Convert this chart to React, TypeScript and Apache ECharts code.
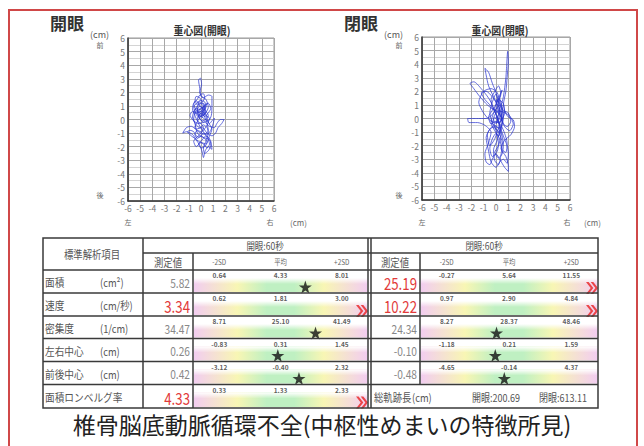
import React, { useEffect, useRef } from "react";
import * as echarts from "echarts";

// ---- trajectory data (cm) ----
const openEyePath: number[][] = [
  [0.0, 0.5], [0.3, 0.8], [0.1, 1.2], [-0.3, 1.0], [-0.5, 0.6], [-0.2, 0.2], [0.3, 0.4], [0.6, 0.9],
  [0.4, 1.5], [0.0, 1.7], [-0.1, 2.3], [-0.2, 2.9], [-0.05, 3.05], [0.05, 2.6], [-0.1, 2.0], [0.2, 1.6],
  [0.6, 1.8], [0.9, 1.7], [0.9, 1.0], [0.85, 0.3], [0.6, -0.1], [0.2, 0.1], [-0.3, 0.4], [-0.7, 0.6],
  [-0.9, 0.3], [-0.6, -0.1], [-0.2, -0.3], [0.3, -0.2], [0.7, -0.5], [1.1, -0.6], [1.3, -0.3], [1.6, 0.0],
  [1.9, 0.0], [1.7, -0.3], [1.4, -0.6], [1.2, -1.0], [0.9, -1.2], [0.5, -1.0], [0.1, -0.6], [-0.4, -0.7],
  [-0.8, -0.5], [-1.2, -0.6], [-1.5, -1.0], [-1.2, -0.9], [-0.7, -1.1], [-0.4, -1.5], [-0.1, -1.9], [0.1, -2.4],
  [0.2, -2.8], [0.35, -2.3], [0.6, -2.0], [0.9, -2.2], [0.8, -1.6], [0.5, -1.4], [0.1, -1.3], [-0.3, -1.0],
  [-0.5, -0.3], [-0.7, 0.2], [-0.4, 0.8], [0.0, 0.7], [0.4, 0.3], [0.7, 0.1], [0.5, -0.4], [0.2, -0.8],
  [-0.2, -1.2], [-0.6, -1.6], [-0.4, -2.0], [0.0, -1.7], [0.4, -1.8], [0.7, -1.2], [0.9, -0.7], [0.6, -0.2],
  [0.3, 0.6], [-0.1, 1.0], [-0.4, 1.4], [-0.6, 1.1], [-0.3, 0.6], [0.1, 0.4], [0.2, 0.9], [0.5, 1.2],
  [0.2, 0.5], [-0.2, 0.0], [-0.5, -0.6], [-0.2, -0.9], [0.3, -1.1], [0.6, -0.8], [0.4, 0.0], [0.0, 0.6],
  [-0.4, 0.5], [-0.6, 0.9], [-0.2, 1.3], [0.3, 1.1], [0.1, 0.7],
  [0.3, 0.5], [0.1, 0.2], [-0.2, 0.4], [-0.3, 0.8], [0.0, 1.0], [0.2, 0.7], [0.4, 0.9], [0.3, 1.3],
  [-0.1, 1.4], [-0.3, 1.1], [-0.5, 1.3], [-0.4, 1.7], [-0.1, 1.6], [0.1, 1.3], [0.3, 1.6], [0.2, 1.9],
  [-0.1, 1.8], [-0.3, 1.5], [-0.6, 1.2], [-0.7, 0.8], [-0.5, 0.3], [-0.3, -0.1], [0.0, -0.3], [0.2, -0.6],
  [0.0, -0.9], [-0.3, -0.8], [-0.5, -1.1], [-0.3, -1.4], [0.0, -1.2], [0.3, -1.4], [0.5, -1.7], [0.3, -2.0],
  [0.0, -2.1], [-0.2, -1.8], [0.1, -1.5], [0.4, -1.2], [0.7, -1.4], [0.8, -1.9], [0.6, -2.3], [0.3, -2.5],
  [0.2, -2.1], [0.4, -1.6], [0.6, -1.0], [0.5, -0.6], [0.2, -0.4], [-0.1, -0.6], [-0.4, -0.4], [-0.6, 0.0],
  [-0.5, 0.5], [-0.2, 0.7], [0.1, 0.9], [0.4, 0.6], [0.6, 0.3], [0.4, 0.0], [0.1, -0.1], [-0.2, 0.2],
  [0.0, 0.5], [0.3, 0.2], [0.6, 0.5], [0.8, 0.8], [0.6, 1.2], [0.3, 1.0], [0.0, 0.8], [-0.3, 0.5],
  [-0.1, 0.1], [0.2, -0.2], [0.5, -0.1], [0.7, -0.3], [0.9, -0.1], [1.1, 0.1], [1.0, -0.3], [0.8, -0.8],
  [0.5, -1.1], [0.2, -1.0], [-0.1, -1.3], [-0.4, -1.2], [-0.6, -0.9], [-0.9, -0.8], [-1.1, -0.9], [-0.8, -1.2],
  [-0.5, -1.4], [-0.2, -1.6], [0.2, -1.8], [0.5, -2.1], [0.7, -1.8], [0.5, -1.3], [0.2, -0.9], [-0.1, -0.5],
  [-0.3, 0.0], [-0.1, 0.4], [0.2, 0.3], [0.4, 0.6], [0.2, 1.0], [-0.1, 1.2], [-0.3, 0.9], [-0.2, 0.5], [0.0, 0.6]
];
const closedEyePath: number[][] = [
  [0.0, 0.0], [0.3, 0.5], [0.2, 1.3], [0.0, 1.8], [-0.3, 1.2], [-0.5, 0.4], [-0.2, -0.5], [0.3, -1.0],
  [0.5, -0.3], [0.4, 0.8], [0.6, 1.6], [0.8, 3.0], [0.95, 4.95], [1.0, 4.2], [0.9, 3.0], [0.8, 2.0],
  [0.6, 1.0], [0.9, 0.2], [1.4, -0.1], [1.5, -0.6], [1.2, -1.2], [0.7, -1.6], [0.4, -2.2], [0.8, -2.8],
  [1.0, -3.5], [1.0, -3.9], [0.7, -3.6], [0.3, -3.0], [0.0, -2.6], [-0.3, -3.0], [-0.5, -3.4], [-0.8, -3.2],
  [-0.9, -2.6], [-0.6, -1.8], [-0.4, -1.0], [-0.9, -0.5], [-1.5, -0.3], [-2.2, -0.3], [-2.3, 0.0], [-1.6, 0.0],
  [-0.8, 0.0], [-0.3, 0.3], [0.1, 0.9], [-0.2, 1.6], [-0.6, 2.4], [-0.8, 3.2], [-0.9, 3.7], [-0.6, 3.4],
  [-0.3, 2.6], [0.0, 1.9], [0.2, 1.0], [0.4, 0.1], [0.7, -0.6], [1.1, -0.9], [1.4, -0.4], [1.1, 0.2],
  [0.5, 0.5], [-0.1, 0.6], [-0.7, 1.0], [-1.3, 1.6], [-1.8, 2.2], [-2.1, 2.6], [-1.8, 2.7], [-1.2, 2.2],
  [-0.6, 1.5], [-0.2, 0.8], [0.1, 0.0], [0.3, -0.8], [0.1, -1.6], [-0.2, -2.3], [-0.1, -3.1], [0.2, -3.4],
  [0.4, -2.7], [0.5, -1.8], [0.2, -1.0], [-0.3, -0.6], [-0.7, -1.2], [-0.5, -2.0], [-0.1, -1.5], [0.3, -0.4],
  [0.5, 0.4], [0.3, 1.2], [0.1, 1.9], [-0.4, 2.2], [-1.0, 2.0], [-1.4, 1.2], [-1.0, 0.4], [-0.4, -0.2],
  [0.2, -0.3], [0.6, 0.2], [0.4, 1.0], [0.0, 1.4], [0.2, 0.3], [0.0, -0.4],
  [0.3, 0.2], [0.1, 0.8], [-0.2, 0.4], [-0.4, -0.3], [-0.1, -0.9], [0.2, -1.3], [0.4, -0.7], [0.6, 0.0],
  [0.5, 0.9], [0.3, 1.5], [0.5, 2.1], [0.3, 1.7], [0.0, 1.0], [-0.3, 0.6], [-0.6, 0.1], [-0.4, -0.4],
  [0.0, -0.2], [0.4, -0.5], [0.7, -1.1], [0.9, -1.8], [0.8, -2.5], [0.5, -2.3], [0.3, -1.5], [0.0, -1.1],
  [-0.3, -1.5], [-0.5, -2.2], [-0.3, -2.8], [0.1, -2.4], [0.2, -1.8], [0.0, -0.9], [-0.2, 0.0], [0.1, 0.5],
  [0.4, 0.2], [0.6, -0.4], [0.9, -0.6], [1.2, -0.2], [1.0, 0.4], [0.6, 0.6], [0.2, 1.2], [0.4, 1.8],
  [0.2, 2.4], [-0.1, 2.0], [-0.4, 1.4], [-0.2, 0.7], [0.2, 0.4], [0.5, -0.2], [0.3, -0.7], [-0.1, -0.6],
  [-0.5, -0.8], [-0.8, -1.4], [-0.6, -2.4], [-0.4, -3.2], [0.0, -3.6], [0.3, -3.2], [0.6, -3.0], [0.9, -3.3],
  [1.0, -2.6], [0.9, -2.0], [0.6, -1.3], [0.3, -0.5], [0.0, 0.3], [-0.4, 0.9], [-0.9, 1.4], [-1.2, 1.9],
  [-0.8, 2.0], [-0.3, 1.6], [0.0, 1.2], [0.3, 0.7], [0.5, 0.0], [0.3, -0.3], [-0.1, 0.1], [-0.3, -0.4],
  [0.1, -0.6], [0.4, -1.2], [0.2, -2.0], [-0.1, -2.5], [0.2, -2.9], [0.5, -2.6], [0.6, -1.9], [0.4, -0.9],
  [0.2, -0.1], [-0.1, 0.7], [0.2, 1.4], [0.6, 1.1], [0.7, 0.4], [0.4, -0.1], [0.1, 0.1]
];

// ---- table data ----
const itemNames = ["面積", "速度", "密集度", "左右中心", "前後中心", "面積ロンベルグ率"];
const itemUnits = ["(cm²)", "(cm/秒)", "(1/cm)", "(cm)", "(cm)", ""];
const openMeasured = [5.82, 3.34, 34.47, 0.26, 0.42, 4.33];
const openMinus2SD = [0.64, 0.62, 8.71, -0.83, -3.12, 0.33];
const openMean = [4.33, 1.81, 25.1, 0.31, -0.4, 1.33];
const openPlus2SD = [8.01, 3.0, 41.49, 1.45, 2.32, 2.33];
const closedMeasured = [25.19, 10.22, 24.34, -0.1, -0.48];
const closedMinus2SD = [-0.27, 0.97, 8.27, -1.18, -4.65];
const closedMean = [5.64, 2.9, 28.37, 0.21, -0.14];
const closedPlus2SD = [11.55, 4.84, 48.46, 1.59, 4.37];
const headerLabels = ["-2SD", "平均", "+2SD"];
const sectionTitles = ["開眼:60秒", "閉眼:60秒"];
const totalPathNames = ["開眼", "閉眼"];
const totalPathValues = [200.69, 613.11];
const caption = "椎骨脳底動脈循環不全(中枢性めまいの特徴所見)";

const FONT = '"Noto Sans CJK JP", "Noto Sans", sans-serif';
const STAR = "path://M50 0 L61.8 35.4 L99 35.4 L69 57.3 L80.4 92.7 L50 70.8 L19.6 92.7 L31 57.3 L1 35.4 L38.2 35.4 Z";
const CHEVRON = "path://M0 0 L9 10 L0 20 L5 20 L14 10 L5 0 Z M9 0 L18 10 L9 20 L14 20 L23 10 L14 0 Z";

function txt(text: string, x: number, y: number, o: any = {}) {
  const align = o.align || "left";
  return {
    type: "text", x, y, scaleX: o.sx || 1, z: o.z || 30, silent: true,
    style: {
      text, fill: o.color || "#555",
      font: `${o.weight || "normal"} ${o.size || 11}px ${FONT}`,
      textAlign: align, align, textVerticalAlign: "middle", verticalAlign: "middle",
    },
  };
}
function ln(x1: number, y1: number, x2: number, y2: number, w = 1.5, c = "#3a3a3a") {
  return { type: "line", z: 25, silent: true, shape: { x1, y1, x2, y2 }, style: { stroke: c, lineWidth: w } };
}

export default function App() {
  const ref = useRef<HTMLDivElement>(null);
  useEffect(() => {
    if (!ref.current) return;
    const chart = echarts.init(ref.current, undefined, { renderer: "svg" });

    const ROWS = [270, 293, 316, 338.5, 361.5, 384.5, 408];
    const grids: any[] = [];
    const xAxes: any[] = [];
    const yAxes: any[] = [];
    const series: any[] = [];
    const g: any[] = [];

    // --- two trajectory plots ---
    const plots = [
      { left: 128, top: 38, width: 146, height: 163, data: openEyePath },
      { left: 422, top: 37, width: 148, height: 163, data: closedEyePath },
    ];
    plots.forEach((p, i) => {
      grids.push({ left: p.left, top: p.top, width: p.width, height: p.height, show: true, borderColor: "#999", borderWidth: 1 });
      const common = {
        gridIndex: i, type: "value", min: -6, max: 6, interval: 1,
        axisLine: { show: true, onZero: false, lineStyle: { color: "#333", width: 1.5 } },
        axisTick: { show: false },
        axisLabel: { fontSize: 8.5, color: "#777", fontFamily: FONT, margin: 3 },
        splitLine: { show: true, lineStyle: { color: "#a8a8a8", width: 1 } },
      };
      xAxes.push({ ...common });
      yAxes.push({ ...common, minorTick: { show: false, splitNumber: 2 }, minorSplitLine: { show: true, lineStyle: { color: "#d4d4d4", width: 1 } } });
      series.push({
        type: "line", xAxisIndex: i, yAxisIndex: i, data: p.data, showSymbol: false, smooth: 0.25,
        silent: true, lineStyle: { color: "#2a35d0", width: 0.8, opacity: 0.9 },
      });
    });

    // --- gauges ---
    const addGauge = (x0: number, x1: number, top: number, bottom: number, m2: number, mean: number, p2: number, v: number) => {
      const gi = grids.length;
      const span = p2 - m2;
      const pad = (span * 0.15) / 0.7;
      const min = m2 - pad, max = p2 + pad;
      const h = bottom - top;
      grids.push({ left: x0, top, width: x1 - x0, height: h });
      xAxes.push({ gridIndex: gi, type: "value", min, max, show: false });
      yAxes.push({ gridIndex: gi, type: "value", min: 0, max: h, inverse: true, show: false });
      series.push({
        type: "scatter", xAxisIndex: gi, yAxisIndex: gi, silent: true, clip: false,
        data: [[m2, 5], [mean, 5], [p2, 5]], symbolSize: 1, itemStyle: { color: "rgba(0,0,0,0)" },
        label: { show: true, position: "inside", fontSize: 6.5, fontWeight: "bold", color: "#333", fontFamily: FONT,
          formatter: (q: any) => q.value[0].toFixed(2) },
      });
      const out = v > p2 || v < m2;
      series.push({
        type: "scatter", xAxisIndex: gi, yAxisIndex: gi, silent: true, clip: false,
        data: [[out ? (v > p2 ? max : min) : v, out ? 18 : 17]],
        symbol: out ? CHEVRON : STAR, symbolSize: out ? [12, 12] : [13, 13],
        symbolOffset: out ? [v > p2 ? -6 : 6, 0] : [0, 0],
        itemStyle: { color: out ? "#e82020" : "#111" },
      });
      g.push({
        type: "rect", z: 1, silent: true, shape: { x: x0 + 1, y: top + 8, width: x1 - x0 - 2, height: h - 9 },
        style: { fill: new echarts.graphic.LinearGradient(0, 0, 1, 0, [
          { offset: 0, color: "#f2cdf0" }, { offset: 0.25, color: "#f8f6b4" }, { offset: 0.42, color: "#bff0c2" },
          { offset: 0.58, color: "#bff0c2" }, { offset: 0.75, color: "#f8f6b4" }, { offset: 1, color: "#f2cdf0" },
        ]) },
      });
      g.push({
        type: "rect", z: 2, silent: true, shape: { x: x0 + 1, y: top + 8, width: x1 - x0 - 2, height: 6 },
        style: { fill: new echarts.graphic.LinearGradient(0, 0, 0, 1, [
          { offset: 0, color: "rgba(255,255,255,1)" }, { offset: 1, color: "rgba(255,255,255,0)" },
        ]) },
      });
      return out;
    };

    openMeasured.forEach((v, i) => {
      const out = addGauge(193, 368, ROWS[i], ROWS[i + 1], openMinus2SD[i], openMean[i], openPlus2SD[i], v);
      const cy = (ROWS[i] + ROWS[i + 1]) / 2 + 1;
      g.push(txt(v.toFixed(2), 190, cy, out ? { align: "right", size: 17, color: "#e23a3a", sx: 0.78 } : { align: "right", size: 12, color: "#888", sx: 0.85 }));
      g.push(txt(itemNames[i], 45, cy, { size: 11, sx: 0.88, color: "#555" }));
      if (itemUnits[i]) g.push(txt(itemUnits[i], 100, cy, { size: 11, sx: 0.85, color: "#555" }));
    });
    closedMeasured.forEach((v, i) => {
      const out = addGauge(420, 598, ROWS[i], ROWS[i + 1], closedMinus2SD[i], closedMean[i], closedPlus2SD[i], v);
      const cy = (ROWS[i] + ROWS[i + 1]) / 2 + 1;
      g.push(txt(v.toFixed(2), 417, cy, out ? { align: "right", size: 17, color: "#e23a3a", sx: 0.78 } : { align: "right", size: 12, color: "#888", sx: 0.85 }));
    });
    // total path row
    const ty = (ROWS[5] + ROWS[6]) / 2 + 1;
    g.push(txt("総軌跡長", 374, ty, { size: 11, sx: 0.85 }));
    g.push(txt("(cm)", 412, ty, { size: 11, sx: 0.85 }));
    g.push(txt(`${totalPathNames[0]}:${totalPathValues[0].toFixed(2)}`, 472, ty, { size: 11, sx: 0.82 }));
    g.push(txt(`${totalPathNames[1]}:${totalPathValues[1].toFixed(2)}`, 539, ty, { size: 11, sx: 0.82 }));

    // headers
    g.push(txt("標準解析項目", 92, 254, { align: "center", size: 11, sx: 0.85 }));
    g.push(txt(sectionTitles[0], 265, 246, { align: "center", size: 10, sx: 0.85 }));
    g.push(txt(sectionTitles[1], 484, 246, { align: "center", size: 10, sx: 0.85 }));
    g.push(txt("測定値", 168, 262, { align: "center", size: 11, sx: 0.85 }));
    g.push(txt("測定値", 395, 262, { align: "center", size: 11, sx: 0.85 }));
    [[193, 368], [420, 598]].forEach(([a, b]) => {
      [0.15, 0.5, 0.85].forEach((f, k) => g.push(txt(headerLabels[k], a + (b - a) * f, 262, { align: "center", size: 7.5, sx: 0.85, color: "#666" })));
    });

    // table lines
    g.push({ type: "rect", z: 25, silent: true, shape: { x: 43, y: 238, width: 555, height: 170 }, style: { fill: "none", stroke: "#3a3a3a", lineWidth: 1.5 } });
    g.push(ln(143, 253, 598, 253));
    for (let r = 0; r < 6; r++) g.push(ln(43, ROWS[r], 598, ROWS[r]));
    g.push(ln(143, 238, 143, 408));
    g.push(ln(193, 253, 193, 408));
    g.push(ln(368, 238, 368, 408));
    g.push(ln(371, 238, 371, 408));
    g.push(ln(420, 253, 420, 384.5));

    // plot annotations
    g.push(txt("開眼", 50, 22, { size: 17, weight: "bold", color: "#333" }));
    g.push(txt("(cm)", 90, 34, { size: 9, color: "#555" }));
    g.push(txt("重心図(開眼)", 202, 30, { align: "center", size: 11, weight: "bold", color: "#333", sx: 0.9 }));
    g.push(txt("前", 100, 45, { align: "center", size: 7, color: "#666" }));
    g.push(txt("後", 100, 195, { align: "center", size: 7, color: "#666" }));
    g.push(txt("左", 128, 222, { align: "center", size: 7, color: "#666" }));
    g.push(txt("右", 270, 222, { align: "center", size: 7, color: "#666" }));
    g.push(txt("(cm)", 290, 222, { size: 8, color: "#666" }));
    g.push(txt("閉眼", 344, 22, { size: 17, weight: "bold", color: "#333" }));
    g.push(txt("(cm)", 384, 34, { size: 9, color: "#555" }));
    g.push(txt("重心図(閉眼)", 500, 30, { align: "center", size: 11, weight: "bold", color: "#333", sx: 0.9 }));
    g.push(txt("前", 399, 45, { align: "center", size: 7, color: "#666" }));
    g.push(txt("後", 399, 195, { align: "center", size: 7, color: "#666" }));
    g.push(txt("左", 422, 222, { align: "center", size: 7, color: "#666" }));
    g.push(txt("右", 567, 222, { align: "center", size: 7, color: "#666" }));
    g.push(txt("(cm)", 584, 222, { size: 8, color: "#666" }));

    // caption and frame
    g.push(txt(caption, 322, 424, { align: "center", size: 23, color: "#222" }));
    g.push({ type: "rect", z: 40, silent: true, shape: { x: 9, y: 10, width: 628, height: 460 }, style: { fill: "none", stroke: "#d04848", lineWidth: 2 } });

    chart.setOption({
      animation: false,
      backgroundColor: "#fff",
      grid: grids,
      xAxis: xAxes,
      yAxis: yAxes,
      series,
      graphic: { elements: g },
    });
    return () => chart.dispose();
  }, []);
  return <div ref={ref} style={{ position: "fixed", left: 0, top: 0, width: 644, height: 446 }} />;
}
